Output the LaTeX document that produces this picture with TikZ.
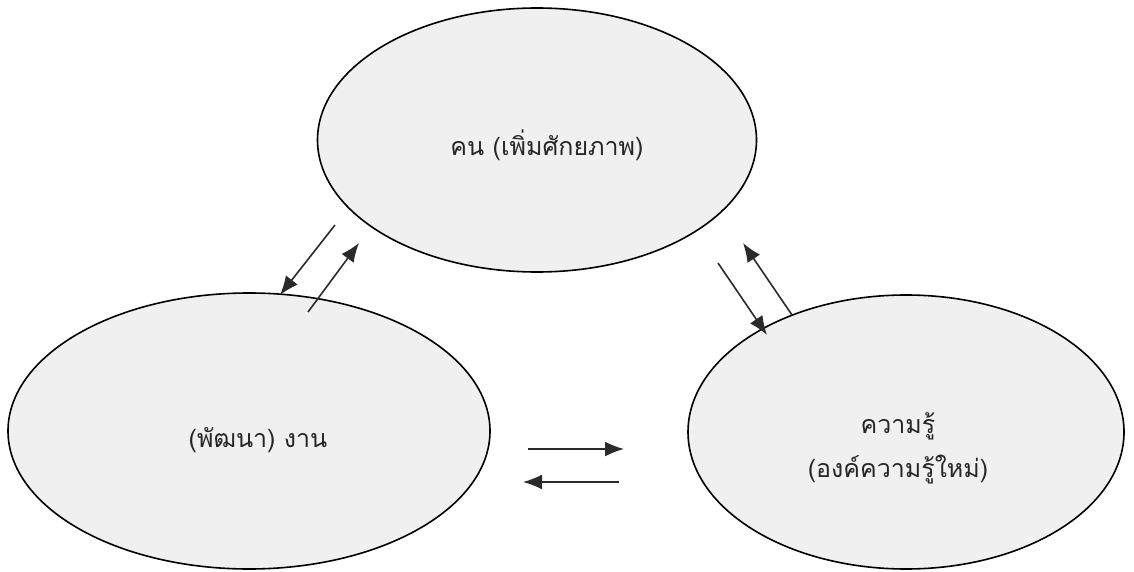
\documentclass[tikz,border=0pt]{standalone}
\usepackage{fontspec}
\newfontfamily\thaifont[Script=Thai]{Loma}
\usetikzlibrary{shapes.geometric,arrows.meta}
\definecolor{ellfill}{HTML}{F0F0F0}
\definecolor{arrcol}{HTML}{2A2A2A}
\tikzset{
  bubble/.style={ellipse, draw=black, line width=1.6pt, fill=ellfill, inner sep=0pt},
  label/.style={font=\thaifont\fontsize{25}{44}\selectfont, text=black!85, align=center},
  flow/.style={draw=arrcol, line width=1.6pt, -{Latex[length=19pt,width=15pt]}}
}
\begin{document}
\begin{tikzpicture}[x=1pt,y=-1pt]
\useasboundingbox (0,0) rectangle (1134,572);
\node[bubble, minimum width=439pt, minimum height=264pt] (kon) at (537,140) {};
\node[bubble, minimum width=482pt, minimum height=276pt] (ngan) at (249,431) {};
\node[bubble, minimum width=436pt, minimum height=274pt] (khwam) at (906,432) {};
\node[label] (t1) at (547,145) {คน (เพิ่มศักยภาพ)};
\node[label] (t2) at (258,440) {(พัฒนา) งาน};
\node[label] (t3) at (898,448) {ความรู้\\(องค์ความรู้ใหม่)};
% arrow end coordinates
\coordinate (a1s) at (335,225); \coordinate (a1e) at (280,295);
\coordinate (a2s) at (308,312); \coordinate (a2e) at (359,243);
\coordinate (a3s) at (718,263); \coordinate (a3e) at (767,335);
\coordinate (a4s) at (792,315); \coordinate (a4e) at (743,243);
\coordinate (a5s) at (528,449); \coordinate (a5e) at (624,449);
\coordinate (a6s) at (619,482); \coordinate (a6e) at (523,482);
\draw[flow] (a1s) -- (a1e);
\draw[flow] (a2s) -- (a2e);
\draw[flow] (a3s) -- (a3e);
\draw[flow] (a4s) -- (a4e);
\draw[flow] (a5s) -- (a5e);
\draw[flow] (a6s) -- (a6e);
\end{tikzpicture}
\end{document}
